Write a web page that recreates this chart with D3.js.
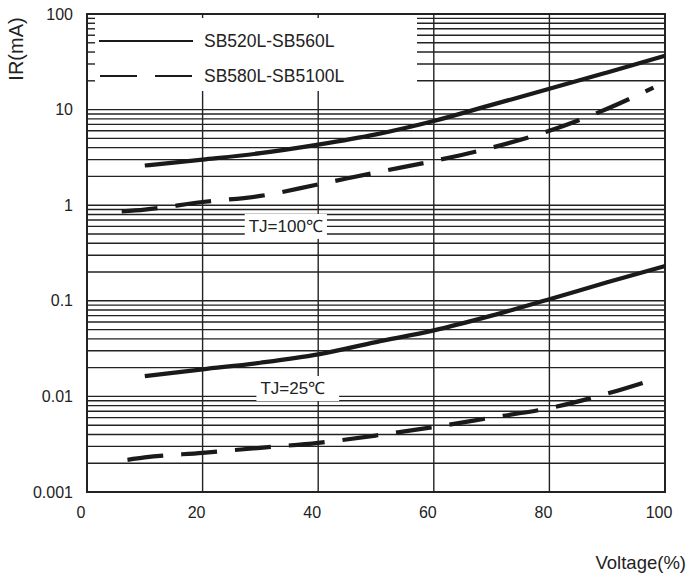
<!DOCTYPE html>
<html>
<head>
<meta charset="utf-8">
<script src="https://cdn.jsdelivr.net/npm/d3@7"></script>
<style>
  body { margin: 0; background: #fff; }
  text { font-family: "Liberation Sans", Arial, sans-serif; fill: #222; }
</style>
</head>
<body>
<script>
// chart size
var width = 688;
var height = 573;

// data (voltage in %, IR in mA)
var xTicks = [0, 20, 40, 60, 80, 100];
var yTicks = [0.001, 0.01, 0.1, 1, 10, 100];
var yTickLabels = ["0.001", "0.01", "0.1", "1", "10", "100"];

var solid100X = [10, 20, 30, 40, 50, 60, 70, 80, 90, 100];
var solid100Y = [2.6, 3.0, 3.5, 4.3, 5.5, 7.6, 11.2, 16.5, 24.5, 36.5];

var dash100X = [6, 10, 20, 30, 40, 50, 60, 70, 80, 90, 98];
var dash100Y = [0.86, 0.9, 1.08, 1.25, 1.65, 2.2, 2.9, 4.0, 6.0, 10.2, 17];

var solid25X = [10, 20, 30, 40, 50, 60, 70, 80, 90, 100];
var solid25Y = [0.0163, 0.0192, 0.0225, 0.0275, 0.037, 0.049, 0.07, 0.104, 0.156, 0.231];

var dash25X = [7, 10, 20, 30, 40, 50, 60, 70, 80, 90, 97.5];
var dash25Y = [0.00217, 0.0023, 0.00257, 0.0029, 0.00327, 0.0039, 0.00478, 0.006, 0.00754, 0.0107, 0.0147];

var legendNames = ["SB520L-SB560L", "SB580L-SB5100L"];

// plot box (window.top is read-only, so no bare "top" here)
var plotL = 87, plotR = 665, plotT = 14, plotB = 492;

var x = d3.scaleLinear().domain([0, 100]).range([plotL, plotR]);
var y = d3.scaleLog().domain([0.001, 100]).range([plotB, plotT]);

var svg = d3.select("body")
            .append("svg")
            .attr("width", width)
            .attr("height", height);

// minor + major horizontal grid
var gridVals = [];
for (var e = -3; e <= 1; e++) {
  for (var k = 1; k <= 9; k++) {
    gridVals.push(k * Math.pow(10, e));
  }
}

var grid = svg.append("g").attr("stroke", "#222").attr("stroke-width", 1.4);

grid.selectAll("line.h")
    .data(gridVals)
    .enter()
    .append("line")
    .attr("class", "h")
    .attr("x1", plotL).attr("x2", plotR)
    .attr("y1", function(d) { return y(d); })
    .attr("y2", function(d) { return y(d); });

grid.selectAll("line.v")
    .data(xTicks.slice(1, -1))
    .enter()
    .append("line")
    .attr("class", "v")
    .attr("x1", function(d) { return x(d); })
    .attr("x2", function(d) { return x(d); })
    .attr("y1", plotT).attr("y2", plotB);

// white legend area in the top-left
var legendRight = 417, legendBottom = 91;
svg.append("rect")
   .attr("x", plotL + 1).attr("y", plotT + 1)
   .attr("width", legendRight - plotL - 1)
   .attr("height", legendBottom - plotT - 1)
   .attr("fill", "#fff");

// short ticks left inside the legend area
var topDecade = gridVals.filter(function(d) { return d > 10; });
svg.append("g").attr("stroke", "#222").attr("stroke-width", 1.4)
   .selectAll("line")
   .data(topDecade)
   .enter()
   .append("line")
   .attr("x1", plotL).attr("x2", plotL + 8)
   .attr("y1", function(d) { return y(d); })
   .attr("y2", function(d) { return y(d); });

svg.append("g").attr("stroke", "#222").attr("stroke-width", 1.4)
   .selectAll("line")
   .data([20, 40])
   .enter()
   .append("line")
   .attr("x1", function(d) { return x(d); })
   .attr("x2", function(d) { return x(d); })
   .attr("y1", plotT).attr("y2", plotT + 4);

// frame
svg.append("rect")
   .attr("x", plotL).attr("y", plotT)
   .attr("width", plotR - plotL).attr("height", plotB - plotT)
   .attr("fill", "none")
   .attr("stroke", "#222")
   .attr("stroke-width", 2);

// temperature labels with white boxes
function tempLabel(txt, vx, vy, padR) {
  var g = svg.append("g");
  var t = g.append("text")
           .attr("x", x(vx)).attr("y", y(vy))
           .attr("dominant-baseline", "central")
           .attr("text-anchor", "middle")
           .style("font-size", "17px")
           .text(txt);
  var b = t.node().getBBox();
  g.insert("rect", "text")
   .attr("x", b.x - 4).attr("y", b.y - 3)
   .attr("width", b.width + 4 + padR).attr("height", b.height + 6)
   .attr("fill", "#fff");
}
tempLabel("TJ=100\u2103", 34.4, 0.6, 4);
tempLabel("TJ=25\u2103", 35.6, 0.0121, 14);

// curves
var line = d3.line()
    .x(function(d) { return x(d[0]); })
    .y(function(d) { return y(d[1]); })
    .curve(d3.curveMonotoneX);

function drawCurve(xs, ys, dashed) {
  var pts = xs.map(function(v, i) { return [v, ys[i]]; });
  svg.append("path")
     .datum(pts)
     .attr("d", line)
     .attr("fill", "none")
     .attr("stroke", "#1a1a1a")
     .attr("stroke-width", 4.2)
     .attr("stroke-dasharray", dashed ? "36,18" : null);
}
drawCurve(solid100X, solid100Y, false);
drawCurve(dash100X, dash100Y, true);
drawCurve(solid25X, solid25Y, false);
drawCurve(dash25X, dash25Y, true);

// legend
var legend = svg.append("g");
legend.append("line")
      .attr("x1", 99).attr("x2", 193).attr("y1", 41).attr("y2", 41)
      .attr("stroke", "#1a1a1a").attr("stroke-width", 2);
legend.append("line")
      .attr("x1", 100).attr("x2", 192).attr("y1", 76).attr("y2", 76)
      .attr("stroke", "#1a1a1a").attr("stroke-width", 2)
      .attr("stroke-dasharray", "37,18");
legend.selectAll("text")
      .data(legendNames)
      .enter()
      .append("text")
      .attr("x", 204)
      .attr("y", function(d, i) { return 41 + i * 35; })
      .attr("dominant-baseline", "central")
      .style("font-size", "17.5px")
      .text(function(d) { return d; });

// y tick labels
svg.selectAll("text.ytick")
   .data(yTicks)
   .enter()
   .append("text")
   .attr("class", "ytick")
   .attr("x", plotL - 14)
   .attr("y", function(d) { return y(d); })
   .attr("text-anchor", "end")
   .attr("dominant-baseline", "central")
   .style("font-size", "16px")
   .text(function(d, i) { return yTickLabels[i]; });

// x tick labels
svg.selectAll("text.xtick")
   .data(xTicks)
   .enter()
   .append("text")
   .attr("class", "xtick")
   .attr("x", function(d) { return x(d) - 6; })
   .attr("y", 512)
   .attr("text-anchor", "middle")
   .attr("dominant-baseline", "central")
   .style("font-size", "16px")
   .text(function(d) { return d; });

// axis titles
svg.append("text")
   .attr("transform", "translate(16,49) rotate(-90)")
   .attr("text-anchor", "middle")
   .attr("dominant-baseline", "central")
   .style("font-size", "20px")
   .text("IR(mA)");

svg.append("text")
   .attr("x", 686).attr("y", 562)
   .attr("text-anchor", "end")
   .attr("dominant-baseline", "central")
   .style("font-size", "18.5px")
   .text("Voltage(%)");
</script>
</body>
</html>
